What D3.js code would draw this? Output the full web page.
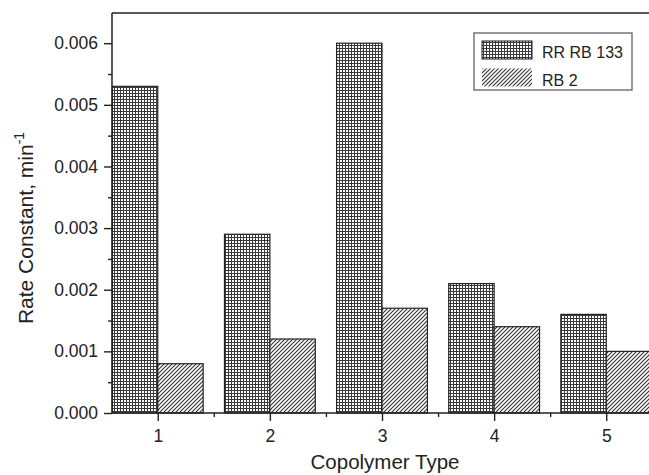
<!DOCTYPE html>
<html>
<head>
<meta charset="utf-8">
<script src="https://cdn.jsdelivr.net/npm/d3@7"></script>
<style>
  body { margin: 0; background: #fff; }
  svg text { font-family: "Liberation Sans", Arial, sans-serif; fill: #222; }
</style>
</head>
<body>
<svg id="chart" width="649" height="475"></svg>
<script>
// chart data
const categories = [1, 2, 3, 4, 5];
const rrRb133 = [0.0053, 0.0029, 0.0060, 0.0021, 0.0016];
const rb2 = [0.0008, 0.0012, 0.0017, 0.0014, 0.0010];
const seriesNames = ["RR RB 133", "RB 2"];
const yTicks = [0, 0.001, 0.002, 0.003, 0.004, 0.005, 0.006];

const svg = d3.select("#chart");
const plotL = 112, plotT = 13, plotR = 652, plotB = 413;

const x = d3.scaleLinear().domain([0.592, 5.408]).range([plotL, plotR]);
const y = d3.scaleLinear().domain([0, 0.00649]).range([plotB, plotT]);

// patterns
const defs = svg.append("defs");
const grid = defs.append("pattern").attr("id", "grid")
  .attr("patternUnits", "userSpaceOnUse").attr("width", 3).attr("height", 3);
grid.append("rect").attr("width", 3).attr("height", 3).attr("fill", "#fff");
grid.append("path").attr("d", "M0,0.5H3M0.5,0V3").attr("stroke", "#3a3a3a").attr("stroke-width", 1);

const hatch = defs.append("pattern").attr("id", "hatch")
  .attr("patternUnits", "userSpaceOnUse").attr("width", 4).attr("height", 4);
hatch.append("rect").attr("width", 4).attr("height", 4).attr("fill", "#fff");
hatch.append("path").attr("d", "M-1,1L1,-1M0,4L4,0M3,5L5,3")
  .attr("stroke", "#333").attr("stroke-width", 1.1);

const fills = ["url(#grid)", "url(#hatch)"];
const barW = x(1.405) - x(1);

const g = svg.append("g");
[rrRb133, rb2].forEach(function(vals, si) {
  g.selectAll(".s" + si)
    .data(vals)
    .enter()
    .append("rect")
    .attr("x", function(d, i) { return si == 0 ? x(categories[i]) - barW : x(categories[i]); })
    .attr("y", function(d) { return y(d); })
    .attr("width", barW)
    .attr("height", function(d) { return plotB - y(d); })
    .attr("fill", fills[si])
    .attr("stroke", "#222")
    .attr("stroke-width", 1.2);
});

// frame
svg.append("line").attr("x1", plotL).attr("x2", 649).attr("y1", plotT).attr("y2", plotT)
  .attr("stroke", "#222").attr("stroke-width", 1.5);

// y axis
const yAxis = svg.append("g").attr("transform", "translate(" + plotL + ",0)")
  .call(d3.axisLeft(y).tickValues(yTicks).tickFormat(d3.format(".3f")).tickSize(8).tickPadding(6));
svg.append("g").attr("transform", "translate(" + plotL + ",0)")
  .call(d3.axisLeft(y).tickValues(d3.range(0.0005, 0.0065, 0.001)).tickFormat("").tickSize(4))
  .select(".domain").remove();

// x axis
const xAxis = svg.append("g").attr("transform", "translate(0," + plotB + ")")
  .call(d3.axisBottom(x).tickValues(categories).tickFormat(d3.format("d")).tickSize(8).tickPadding(9));
svg.append("g").attr("transform", "translate(0," + plotB + ")")
  .call(d3.axisBottom(x).tickValues([1.5, 2.5, 3.5, 4.5]).tickFormat("").tickSize(4))
  .select(".domain").remove();

svg.selectAll(".domain").attr("stroke", "#222").attr("stroke-width", 1.5);
svg.selectAll(".tick line").attr("stroke", "#222").attr("stroke-width", 1.4);
svg.selectAll(".tick text").attr("font-size", 17.5).attr("fill", "#222")
  .style("font-family", "'Liberation Sans', Arial, sans-serif");
yAxis.select(".domain").attr("d", "M0," + plotB + "V" + plotT);
xAxis.select(".domain").attr("d", "M" + plotL + ",0H" + 649);

// axis titles
svg.append("text").attr("x", 385).attr("y", 469).attr("text-anchor", "middle")
  .attr("font-size", 20.5).text("Copolymer Type");

const yl = svg.append("text").attr("transform", "translate(33,228) rotate(-90)")
  .attr("text-anchor", "middle").attr("font-size", 21);
yl.append("tspan").text("Rate Constant, min");
yl.append("tspan").attr("dy", -9).attr("font-size", 14).text("-1");

// legend
const lg = svg.append("g").attr("transform", "translate(474,33)");
lg.append("rect").attr("width", 158).attr("height", 57)
  .attr("fill", "#fff").attr("stroke", "#555").attr("stroke-width", 1.2);
seriesNames.forEach(function(name, i) {
  lg.append("rect").attr("x", 8).attr("y", 8 + i * 27.5).attr("width", 50).attr("height", 18)
    .attr("fill", fills[i]).attr("stroke", i == 0 ? "#222" : "none");
  lg.append("text").attr("x", 68).attr("y", 25 + i * 27.5).attr("font-size", 16).text(name);
});
</script>
</body>
</html>
